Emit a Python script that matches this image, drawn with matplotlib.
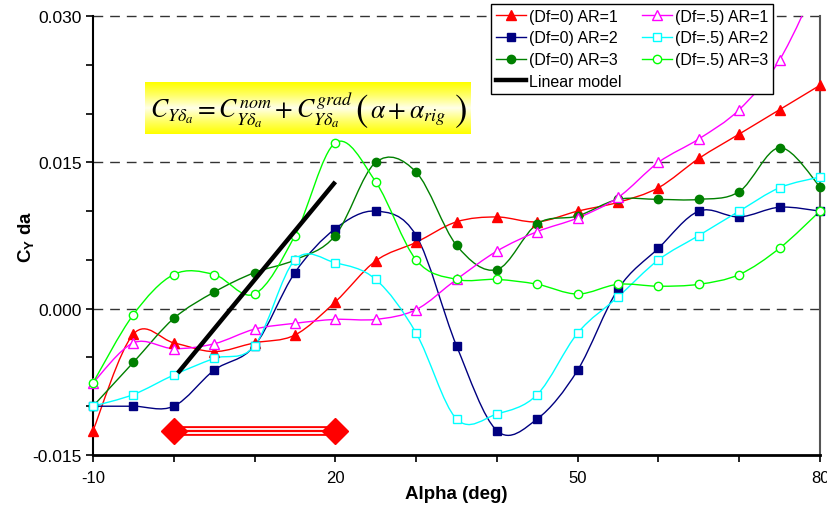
import numpy as np
import matplotlib
matplotlib.use("Agg")
import matplotlib.pyplot as plt
from matplotlib.path import Path
from matplotlib.patches import PathPatch
from matplotlib.lines import Line2D
from matplotlib.ticker import MultipleLocator, FixedLocator, FormatStrFormatter

plt.rcParams['font.family'] = ['Liberation Sans', 'DejaVu Sans']
plt.rcParams['mathtext.fontset'] = 'custom'
plt.rcParams['mathtext.rm'] = 'Liberation Sans'
plt.rcParams['mathtext.bf'] = 'Liberation Sans:bold'
plt.rcParams['axes.unicode_minus'] = False

# data
alpha = [-10, -5, 0, 5, 10, 15, 20, 25, 30, 35, 40, 45, 50, 55, 60, 65, 70, 75, 80]
df0_ar1 = [-0.0125, -0.0026, -0.0035, -0.0044, -0.0035, -0.0027, 0.0007, 0.0049, 0.0068, 0.0089,
           0.0094, 0.0089, 0.0100, 0.0109, 0.0124, 0.0154, 0.0179, 0.0204, 0.0229]
df0_ar2 = [-0.0100, -0.0100, -0.0100, -0.0063, -0.0038, 0.0037, 0.0082, 0.0100, 0.0075, -0.0038,
           -0.0125, -0.0113, -0.0063, 0.0020, 0.0062, 0.0100, 0.0094, 0.0104, 0.0100]
df0_ar3 = [-0.0100, -0.0055, -0.0010, 0.0017, 0.0037, 0.0050, 0.0075, 0.0150, 0.0140, 0.0065,
           0.0040, 0.0087, 0.0095, 0.0112, 0.0112, 0.0112, 0.0120, 0.0165, 0.0125]
df5_ar1 = [-0.0076, -0.0035, -0.0041, -0.0036, -0.0021, -0.0015, -0.0011, -0.0011, -0.0001, 0.0030,
           0.0059, 0.0079, 0.0093, 0.0114, 0.0150, 0.0174, 0.0204, 0.0255, 0.0340]
df5_ar2 = [-0.0100, -0.0088, -0.0068, -0.0051, -0.0038, 0.0050, 0.0047, 0.0030, -0.0025, -0.0113,
           -0.0108, -0.0088, -0.0025, 0.0012, 0.0050, 0.0075, 0.0100, 0.0124, 0.0135]
df5_ar3 = [-0.0076, -0.0006, 0.0035, 0.0035, 0.0015, 0.0075, 0.0170, 0.0130, 0.0050, 0.0030,
           0.0030, 0.0025, 0.0015, 0.0025, 0.0023, 0.0025, 0.0035, 0.0062, 0.0100]

linear_alpha = [0.5, 20]
linear_cy = [-0.0066, 0.0130]

range_alpha = [0, 20]
range_cy = [-0.0125, -0.0125]

x_ticks = [-10, 20, 50, 80]

series = [
    ("(Df=0) AR=1", df0_ar1, "#FF0000", "^", "#FF0000"),
    ("(Df=0) AR=2", df0_ar2, "#000080", "s", "#000080"),
    ("(Df=0) AR=3", df0_ar3, "#008000", "o", "#008000"),
    ("(Df=.5) AR=1", df5_ar1, "#FF00FF", "^", "white"),
    ("(Df=.5) AR=2", df5_ar2, "#00FFFF", "s", "white"),
    ("(Df=.5) AR=3", df5_ar3, "#00FF00", "o", "white"),
]


def smooth_path(x, y, t=1 / 6):
    # Excel-style smoothed line: cubic bezier through each point
    p = np.column_stack([x, y]).astype(float)
    n = len(p)
    verts = [p[0]]
    codes = [Path.MOVETO]
    for i in range(n - 1):
        p0 = p[i - 1] if i > 0 else p[i]
        p3 = p[i + 2] if i + 2 < n else p[i + 1]
        verts += [p[i] + (p[i + 1] - p0) * t, p[i + 1] - (p3 - p[i]) * t, p[i + 1]]
        codes += [Path.CURVE4] * 3
    return Path(verts, codes)


def fpx(x, y):
    # pixel position -> figure fraction
    return x / 828, 1 - y / 510


fig = plt.figure(figsize=(8.28, 5.10), dpi=100)
ax = fig.add_axes([93 / 828, 54 / 510, 727 / 828, 439 / 510])

handles = []
for label, vals, col, mk, face in series:
    ax.add_patch(PathPatch(smooth_path(alpha, vals), fill=False, edgecolor=col, lw=1.0, zorder=3))
    a = np.array(alpha)
    v = np.array(vals)
    keep = v <= 0.030
    ms = 7 if mk == "^" else 6
    ax.plot(a[keep], v[keep], ls="none", marker=mk, ms=ms, mfc=face, mec=col, mew=1.0,
            zorder=4, clip_on=False)
    handles.append(Line2D([], [], color=col, lw=1.0, marker=mk, ms=ms, mfc=face, mec=col))

ax.plot(linear_alpha, linear_cy, color="black", lw=3.2, solid_capstyle="butt", zorder=5)
handles.insert(3, Line2D([], [], color="black", lw=3.2))
labels = [s[0] for s in series[:3]] + ["Linear model"] + [s[0] for s in series[3:]]

# alpha range bar
ax.plot(range_alpha, range_cy, color="#FF0000", lw=7, solid_capstyle="butt", zorder=4)
ax.plot(range_alpha, range_cy, color="white", lw=4.2, solid_capstyle="butt", zorder=4)
ax.plot(range_alpha, range_cy, color="#FF0000", lw=1.6, solid_capstyle="butt", zorder=4)
ax.plot(range_alpha, range_cy, ls="none", marker="D", ms=13, color="#FF0000", zorder=5)

# formula box with yellow gradient
grad = np.array([1.0, 0.55, 0.0, 0.55, 1.0])
box = [-3.6, 36.7, 0.01794, 0.02327]
ax.imshow(np.interp(np.linspace(0, 1, 60), np.linspace(0, 1, 5), grad)[:, None],
          extent=box, aspect="auto", cmap=matplotlib.colors.LinearSegmentedColormap.from_list(
              "yl", ["#FFFFE8", "#FFFF00"]), vmin=0, vmax=1, zorder=2)
fig.text(*fpx(150, 118), r"$C_{Y\delta_a} = C^{nom}_{Y\delta_a} + C^{grad}_{Y\delta_a}$",
         ha="left", va="baseline", fontsize=18.5, math_fontfamily="stix")
fig.text(*fpx(370, 118), r"$\alpha + \alpha_{rig}$",
         ha="left", va="baseline", fontsize=18.5, math_fontfamily="stix")
fig.text(*fpx(362, 111), r"$($", ha="center", va="center", fontsize=27, math_fontfamily="stix")
fig.text(*fpx(460, 111), r"$)$", ha="center", va="center", fontsize=27, math_fontfamily="stix")

ax.set_xlim(-10, 80)
ax.set_ylim(-0.015, 0.030)
ax.xaxis.set_major_locator(FixedLocator(x_ticks))
ax.xaxis.set_minor_locator(MultipleLocator(10))
ax.yaxis.set_major_locator(MultipleLocator(0.015))
ax.yaxis.set_minor_locator(MultipleLocator(0.005))
ax.yaxis.set_major_formatter(FormatStrFormatter("%.3f"))
ax.tick_params(which="both", direction="out", length=5, width=1.2, labelsize=12.5, pad=3)
ax.tick_params(axis="x", labelsize=12, pad=6)

for yv in [0.0, 0.015, 0.030]:
    ax.axhline(yv, color="#333333", lw=1.0, ls=(0, (7, 5)), zorder=1, clip_on=False)

ax.spines["top"].set_visible(False)
ax.spines["right"].set_color("#555555")
ax.spines["right"].set_linewidth(1.5)
ax.spines["left"].set_linewidth(1.5)
ax.spines["bottom"].set_linewidth(2.0)

ax.set_xlabel("Alpha (deg)", fontsize=13.5, fontweight="bold", labelpad=0)
ax.set_ylabel(r"C$_{\mathbf{Y}}$ da", fontsize=13.5, fontweight="bold", labelpad=-3)

leg = ax.legend(handles, labels, ncol=2, loc="upper left", bbox_to_anchor=(491 / 828, 1 - 5 / 510),
                bbox_transform=fig.transFigure, fontsize=11.5, frameon=True, fancybox=False,
                edgecolor="black", framealpha=1, handlelength=1.9, handletextpad=0.15,
                columnspacing=1.3, labelspacing=0.42, borderpad=0.3, borderaxespad=0)
leg.get_frame().set_linewidth(1.0)
leg.set_zorder(10)

fig.savefig("out.png", dpi=100)
